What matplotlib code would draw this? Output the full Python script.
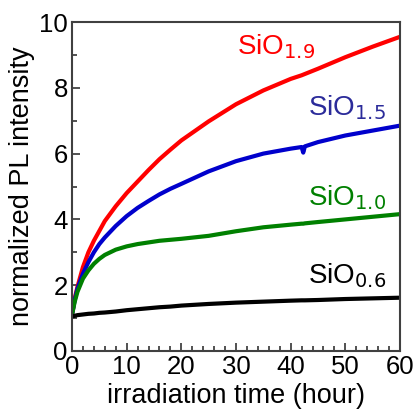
import matplotlib
matplotlib.use("Agg")
import matplotlib.pyplot as plt
from matplotlib.ticker import MultipleLocator

plt.rcParams['font.family'] = ['Liberation Sans', 'DejaVu Sans']

t = [0, 0.5, 1, 2, 3, 4, 5, 6, 8, 10, 12, 14, 16, 18, 20, 25, 30, 35, 40, 42, 42.3, 42.6, 45, 50, 55, 60]
sio19 = [1.1, 1.6, 1.95, 2.55, 3.0, 3.35, 3.65, 3.95, 4.4, 4.8, 5.15, 5.5, 5.83, 6.12, 6.4, 6.98, 7.5, 7.92, 8.27, 8.38, 8.4, 8.42, 8.58, 8.93, 9.25, 9.55]
sio15 = [1.1, 1.55, 1.9, 2.35, 2.7, 3.0, 3.25, 3.45, 3.8, 4.1, 4.35, 4.56, 4.76, 4.93, 5.08, 5.46, 5.77, 6.0, 6.15, 6.2, 6.03, 6.22, 6.35, 6.55, 6.7, 6.85]
sio10 = [1.1, 1.5, 1.8, 2.2, 2.45, 2.65, 2.8, 2.92, 3.08, 3.18, 3.25, 3.3, 3.35, 3.38, 3.41, 3.5, 3.64, 3.76, 3.84, 3.87, 3.87, 3.88, 3.92, 4.0, 4.08, 4.16]
sio06 = [1.05, 1.07, 1.09, 1.11, 1.13, 1.14, 1.16, 1.17, 1.2, 1.24, 1.27, 1.3, 1.33, 1.35, 1.38, 1.43, 1.47, 1.5, 1.53, 1.54, 1.54, 1.54, 1.55, 1.58, 1.6, 1.62]

series = [
    (sio19, '#ff0000', 'SiO$_{1.9}$', 30.2, 9.25),
    (sio15, '#0000cc', 'SiO$_{1.5}$', 43.2, 7.4),
    (sio10, '#008000', 'SiO$_{1.0}$', 43.2, 4.65),
    (sio06, '#000000', 'SiO$_{0.6}$', 43.2, 2.3),
]
label_colors = {'#0000cc': '#2b2b9a'}

fig = plt.figure(figsize=(4.17, 4.13), dpi=100)
ax = fig.add_axes([72/417, 1-351/413, 328/417, 329/413])

for y, c, lab, lx, ly in series:
    ax.plot(t, y, color=c, lw=3.0, solid_capstyle='butt', solid_joinstyle='round')
    ax.text(lx, ly, lab, color=label_colors.get(c, c), fontsize=20,
            ha='left', va='center')

ax.set_xlim(0, 60)
ax.set_ylim(0, 10)
ax.xaxis.set_major_locator(MultipleLocator(10))
ax.xaxis.set_minor_locator(MultipleLocator(2))
ax.yaxis.set_major_locator(MultipleLocator(2))
ax.yaxis.set_minor_locator(MultipleLocator(1))
ax.tick_params(which='both', direction='in', top=False, right=False,
               labelsize=18.5, colors='#333333', labelcolor='black', width=1.2)
ax.tick_params(which='major', length=6, pad=3)
ax.tick_params(which='minor', length=3.5)
for s in ax.spines.values():
    s.set_color('#404040')
    s.set_linewidth(1.5)

ax.set_xlabel('irradiation time (hour)', fontsize=19.5, labelpad=3)
ax.set_ylabel('normalized PL intensity', fontsize=19.5, labelpad=3)

fig.savefig('out.png', dpi=100)
